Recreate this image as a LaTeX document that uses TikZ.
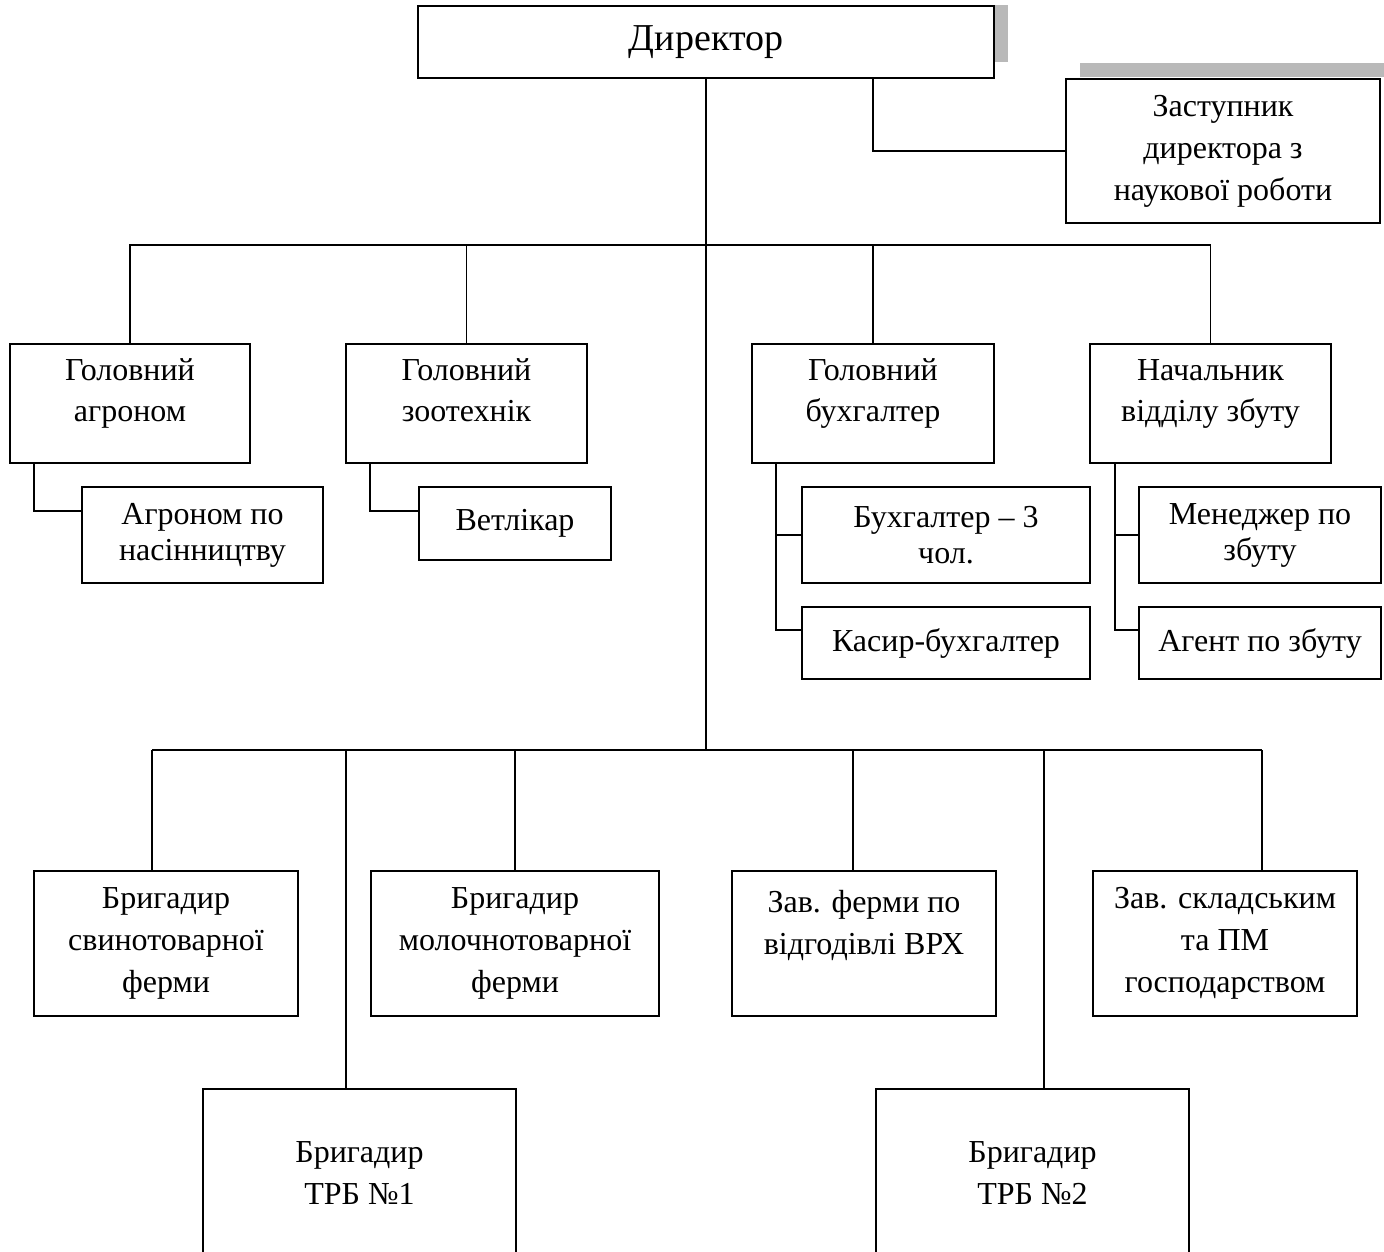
\documentclass[tikz,border=0pt]{standalone}
\usepackage{fontspec}
\setmainfont{Liberation Serif}
\usetikzlibrary{calc}
\newcommand{\dirsz}{\fontsize{19}{23}\selectfont}
\newcommand{\headsz}{\fontsize{16}{20.5}\selectfont}
\newcommand{\subsz}{\fontsize{16}{18}\selectfont}
\newcommand{\farmsz}{\fontsize{16}{21}\selectfont}

\begin{document}
\begin{tikzpicture}[x=0.5pt, y=-0.5pt,
  box/.style={draw, line width=1pt, anchor=north west, inner sep=0pt,
    align=center, fill=white},
  headbox/.style={box, minimum height=59.5pt, font=\headsz,
    execute at begin node=\strut,
    execute at end node={\strut\rule[-13pt]{0pt}{13pt}}},
  link/.style={line width=0.8pt}]
  \useasboundingbox (0,0) rectangle (1384,1251);
  \fill[gray!55] (993,5) rectangle (1008,62);
  \fill[gray!55] (1080,63) rectangle (1384,77);
  \node[box, minimum width=288pt, minimum height=36pt, font=\dirsz] (dir) at (417,5) {Директор};
  \node[box, minimum width=157pt, minimum height=72pt, font=\farmsz] (dep) at (1065,78)
    {Заступник\\директора з\\наукової роботи};
  \node[headbox, minimum width=120pt] (agr) at (9,343) {Головний\\агроном};
  \node[headbox, minimum width=120.5pt] (zoo) at (345,343) {Головний\\зоотехнік};
  \node[headbox, minimum width=121pt] (buh) at (751,343) {Головний\\бухгалтер};
  \node[headbox, minimum width=120.5pt] (nach) at (1089,343) {Начальник\\відділу збуту};
  \node[box, minimum width=120.5pt, minimum height=48pt, font=\subsz] (agrsub) at (81,486)
    {Агроном по\\насінництву};
  \node[box, minimum width=96pt, minimum height=36.5pt, font=\subsz] (vet) at (418,486) {Ветлікар};
  \node[box, minimum width=144pt, minimum height=48pt, font=\subsz] (buh3) at (801,486)
    {Бухгалтер – 3\\чол.};
  \node[box, minimum width=144pt, minimum height=36pt, font=\subsz] (kas) at (801,606) {Касир-бухгалтер};
  \node[box, minimum width=121pt, minimum height=48pt, font=\subsz] (men) at (1138,486)
    {Менеджер по\\збуту};
  \node[box, minimum width=121pt, minimum height=36pt, font=\subsz] (agent) at (1138,606) {Агент по збуту};
  \node[box, minimum width=132pt, minimum height=72.5pt, font=\farmsz] (svyn) at (33,870)
    {Бригадир\\свинотоварної\\ферми};
  \node[box, minimum width=144pt, minimum height=72.5pt, font=\farmsz] (mol) at (370,870)
    {Бригадир\\молочнотоварної\\ферми};
  \node[box, minimum width=132pt, minimum height=72.5pt, font=\farmsz] (vrh) at (731,870)
    {Зав. ферми по\\відгодівлі ВРХ\\\mbox{}};
  \node[box, minimum width=132pt, minimum height=72.5pt, font=\farmsz] (skl) at (1092,870)
    {Зав. складським\\та ПМ\\господарством};
  \node[box, minimum width=156.5pt, minimum height=84pt, font=\farmsz] (trb1) at (202,1088)
    {Бригадир\\ТРБ №1};
  \node[box, minimum width=156.5pt, minimum height=84pt, font=\farmsz] (trb2) at (875,1088)
    {Бригадир\\ТРБ №2};
  \coordinate (tb) at (0,245);
  \coordinate (bb) at (0,750);
  \draw[link] (dir.south) -- (dir.south |- bb);
  \draw[link] (dir.south -| buh.north) |- (dep.west);
  \draw[link] (agr.north) -- (agr.north |- tb) -- (nach.north |- tb) -- (nach.north);
  \draw[link] (zoo.north) -- (zoo.north |- tb);
  \draw[link] (buh.north) -- (buh.north |- tb);
  \draw[link] ($(agr.south west)+(25,0)$) |- ($(agrsub.north west)+(0,25)$);
  \draw[link] ($(zoo.south west)+(25,0)$) |- ($(vet.north west)+(0,25)$);
  \coordinate (bv) at ($(buh.south west)+(25,0)$);
  \draw[link] (bv) |- ($(kas.north west)+(0,24)$);
  \draw[link] (bv |- buh3.west) -- (buh3.west);
  \coordinate (nv) at ($(nach.south west)+(26,0)$);
  \draw[link] (nv) |- ($(agent.north west)+(0,24)$);
  \draw[link] (nv |- men.west) -- (men.west);
  \foreach \n/\dx in {svyn/119, trb1/144, mol/145, vrh/122, trb2/169, skl/170} {
    \coordinate (d\n) at ($(\n.north west)+(\dx,0)$);
    \draw[link] (d\n) -- (d\n |- bb);
  }
  \draw[link] (dsvyn |- bb) -- (dskl |- bb);
\end{tikzpicture}
\end{document}
